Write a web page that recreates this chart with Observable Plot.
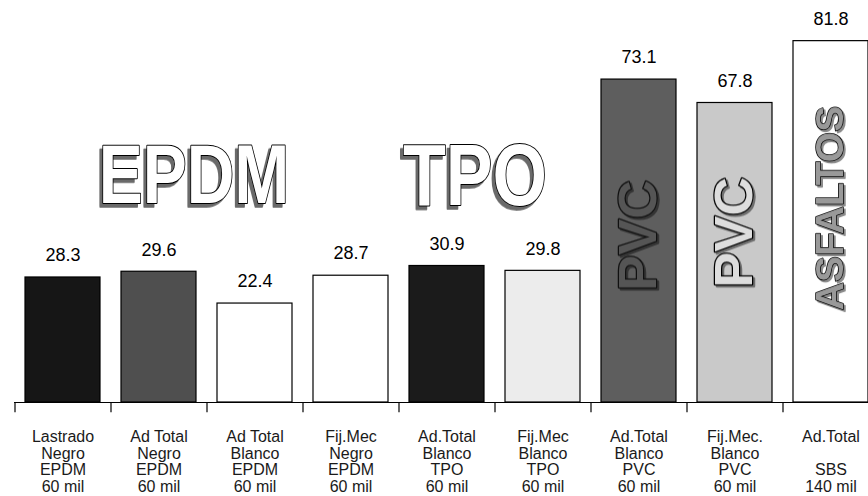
<!DOCTYPE html>
<html><head><meta charset="utf-8">
<script src="https://cdn.jsdelivr.net/npm/d3@7"></script>
<script src="https://cdn.jsdelivr.net/npm/@observablehq/plot@0.6"></script>
<style>body{margin:0;background:#fff;overflow:hidden;} #chart svg{overflow:visible;}</style>
</head><body><div id="chart"></div>
<script>
const categories = [
  "Lastrado\nNegro\nEPDM\n60 mil",
  "Ad Total\nNegro\nEPDM\n60 mil",
  "Ad Total\nBlanco\nEPDM\n60 mil",
  "Fij.Mec\nNegro\nEPDM\n60 mil",
  "Ad.Total\nBlanco\nTPO\n60 mil",
  "Fij.Mec\nBlanco\nTPO\n60 mil",
  "Ad.Total\nBlanco\nPVC\n60 mil",
  "Fij.Mec.\nBlanco\nPVC\n60 mil",
  "Ad.Total\n\nSBS\n140 mil"
];
const values = [28.3, 29.6, 22.4, 28.7, 30.9, 29.8, 73.1, 67.8, 81.8];
const barColors = ["#161616", "#4f4f4f", "#ffffff", "#ffffff", "#1b1b1b", "#ececec", "#5e5e5e", "#c9c9c9", "#ffffff"];
const groupWords = ["EPDM", "TPO"];
const groupAnchor = [categories[1], categories[4]];
const barWords = ["PVC", "PVC", "ASFALTOS"];
const barWordAnchor = [categories[6], categories[7], categories[8]];

const data = categories.map((c, i) => ({cat: c, value: values[i]}));
const font = "Liberation Sans, Arial, sans-serif";
const wordStyle = {fontSize: 66, fontWeight: "bold", fill: "#fff", stroke: "#000", strokeWidth: 1.6, dy: -2};

const chart = Plot.plot({
  width: 868,
  height: 496,
  marginTop: 0,
  marginBottom: 94,
  marginLeft: 14,
  marginRight: 0,
  style: {background: "#fff", fontFamily: font},
  x: {domain: categories, range: [14, 878], paddingInner: 0.22, paddingOuter: 0.11, axis: null},
  y: {domain: [0, 91], axis: null},
  color: {domain: categories, range: barColors},
  marks: [
    Plot.barY(data, {x: "cat", y: "value", fill: "cat", stroke: "#000", strokeWidth: 1.2}),
    Plot.ruleY([0], {stroke: "#000", strokeWidth: 1.2}),
    Plot.ruleX(categories, {x: d => d, dx: -48, y1: 0, y2: -2.3, stroke: "#000", strokeWidth: 1.2}),
    Plot.text(data, {x: "cat", y: "value", text: d => d.value.toFixed(1), dy: -22, fontSize: 18, fill: "#000"}),
    Plot.text(data, {x: "cat", y: 0, text: "cat", dy: 28, lineAnchor: "top", fontSize: 16, lineHeight: 1.03, fill: "#1a1a1a"}),
    // outlined group words (3D look added below with a drop shadow)
    Plot.text([0], {x: () => groupAnchor[0], y: () => 50.7, text: () => groupWords[0], dx: 35, ...wordStyle}),
    Plot.text([1], {x: () => groupAnchor[1], y: () => 50.7, text: () => groupWords[1], dx: 28, ...wordStyle, fontSize: 70}),
    Plot.text([0], {x: () => barWordAnchor[0], y: () => 37.8, text: () => barWords[0], rotate: -90, fontSize: 54, fontWeight: "bold", fill: "#555", stroke: "#111", strokeWidth: 2.5}),
    Plot.text([1], {x: () => barWordAnchor[1], y: () => 38.5, text: () => barWords[1], rotate: -90, fontSize: 54, fontWeight: "bold", fill: "#ddd", stroke: "#000", strokeWidth: 2.5}),
    Plot.text([2], {x: () => barWordAnchor[2], y: () => 44, text: () => barWords[2], rotate: -90, fontSize: 39, fontWeight: "bold", fill: "#999", stroke: "#000", strokeWidth: 1.5})
  ]
});
document.getElementById("chart").appendChild(chart);

// tall, extruded display lettering for the group words
d3.select(chart).selectAll("text").each(function() {
  const t = this.textContent;
  if (groupWords.includes(t)) {
    const tr = this.getAttribute("transform") || "";
    this.setAttribute("transform", tr + " scale(1,1.25)");
    this.style.filter = "drop-shadow(-3px 3px 0 #6a6a6a)";
  } else if (barWords.includes(t)) {
    this.style.filter = "drop-shadow(-2px 2px 0 rgba(0,0,0,0.45))";
  }
});
</script>
</body></html>
